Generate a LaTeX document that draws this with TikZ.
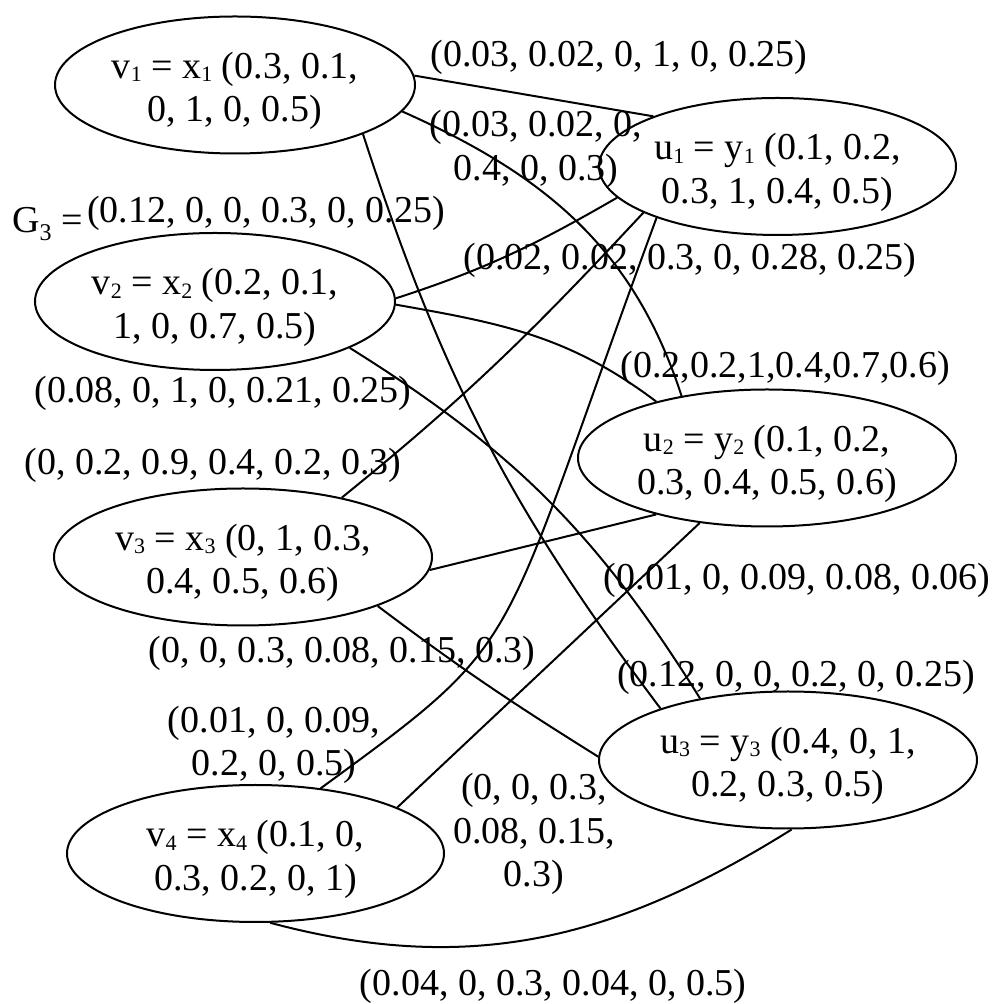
\documentclass[tikz,border=0pt]{standalone}
\usepackage{fontspec}
\setmainfont{Liberation Serif}
\usetikzlibrary{shapes.geometric}
\newcommand\sbs[1]{\raisebox{-3.5pt}{\fontsize{22}{22}\selectfont #1}}
\newcommand\gsbs[1]{\raisebox{-8pt}{\fontsize{24}{24}\selectfont #1}}
\newcommand\tpad{\rule{0pt}{38pt}}
\begin{document}
\begin{tikzpicture}[x=1pt,y=1pt,
  every node/.style={font=\fontsize{38}{43.5}\selectfont, inner sep=0pt},
  vert/.style={draw, ellipse, line width=2pt, align=center, minimum height=137pt},
  lbl/.style={align=center},
  edge/.style={line width=2pt}]
\useasboundingbox (0,0) rectangle (994,1004);

% vertices
\node[vert, minimum width=360pt] (v1) at (235,919) {\tpad v\sbs{1} = x\sbs{1} (0.3, 0.1,\\0, 1, 0, 0.5)};
\node[vert, minimum width=360pt] (v2) at (215,702.5) {\tpad v\sbs{2} = x\sbs{2} (0.2, 0.1,\\1, 0, 0.7, 0.5)};
\node[vert, minimum width=378pt] (v3) at (243,447) {\tpad v\sbs{3} = x\sbs{3} (0, 1, 0.3,\\0.4, 0.5, 0.6)};
\node[vert, minimum width=377pt] (v4) at (255.5,150.5) {\tpad v\sbs{4} = x\sbs{4} (0.1, 0,\\0.3, 0.2, 0, 1)};
\node[vert, minimum width=357pt] (u1) at (777.5,837.5) {\tpad u\sbs{1} = y\sbs{1} (0.1, 0.2,\\0.3, 1, 0.4, 0.5)};
\node[vert, minimum width=378pt] (u2) at (767,546) {\tpad u\sbs{2} = y\sbs{2} (0.1, 0.2,\\0.3, 0.4, 0.5, 0.6)};
\node[vert, minimum width=378pt] (u3) at (788,244) {\tpad u\sbs{3} = y\sbs{3} (0.4, 0, 1,\\0.2, 0.3, 0.5)};

% edges
\draw[edge] (v1.3) -- (u1.158);
\draw[edge] (v1.-9) to[out=-24,in=108] (u2.144);
\draw[edge] (v1.-21) to[out=-72,in=127] (u3.158);
\draw[edge] (v2.1) to[out=18,in=-150] (u1.-169);
\draw[edge] (v2.-1) to[out=-10,in=143] (u2.153);
\draw[edge] (v2.-19) to[out=-32,in=122] (u3.145);
\draw[edge] (v3.31) to[out=39,in=-133] (u1.-161);
\draw[edge] (v3.-4) -- (u2.-153);
\draw[edge] (v3.-20) to[out=-37,in=148] (u3.179);
\draw[edge] (v4.45) .. controls (532,370) and (493,342) .. (u1.-157);
\draw[edge] (v4.18) -- (u2.-136);
\draw[edge] (v4.-78) to[out=-15,in=-148] (u3.-87);

% labels
\node[anchor=base west] (g3) at (12,771) {G\gsbs{3} =};
\node[anchor=base] (n1) at (619,937) {(0.03, 0.02, 0, 1, 0, 0.25)};
\node[lbl] (n2) at (536,854.5) {(0.03, 0.02, 0,\\0.4, 0, 0.3)};
\node[anchor=base] (n3) at (266,781) {(0.12, 0, 0, 0.3, 0, 0.25)};
\node[anchor=base] (n4) at (690,734) {(0.02, 0.02, 0.3, 0, 0.28, 0.25)};
\node[anchor=base] (n5) at (785,626) {(0.2,0.2,1,0.4,0.7,0.6)};
\node[anchor=base] (n6) at (223,601) {(0.08, 0, 1, 0, 0.21, 0.25)};
\node[anchor=base] (n7) at (213,529) {(0, 0.2, 0.9, 0.4, 0.2, 0.3)};
\node[anchor=base] (n8) at (797,414) {(0.01, 0, 0.09, 0.08, 0.06)};
\node[anchor=base] (n9) at (342,341) {(0, 0, 0.3, 0.08, 0.15, 0.3)};
\node[anchor=base] (n10) at (796,317) {(0.12, 0, 0, 0.2, 0, 0.25)};
\node[lbl] (n11) at (274,259) {(0.01, 0, 0.09,\\0.2, 0, 0.5)};
\node[lbl] (n12) at (534,170) {(0, 0, 0.3,\\0.08, 0.15,\\0.3)};
\node[anchor=base] (n13) at (553,9) {(0.04, 0, 0.3, 0.04, 0, 0.5)};
\end{tikzpicture}
\end{document}
